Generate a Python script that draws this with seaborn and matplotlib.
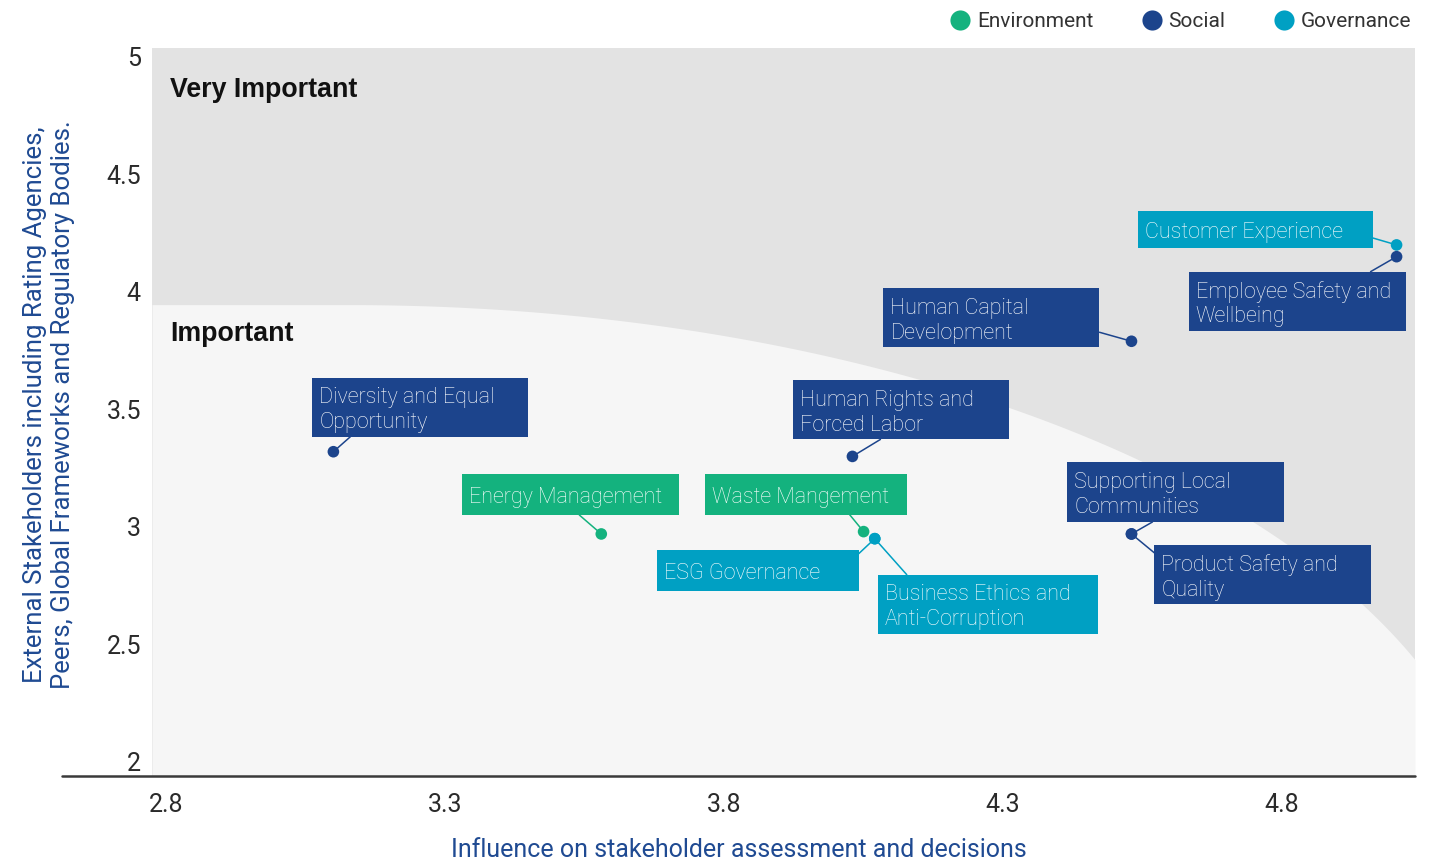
import numpy as np
import pandas as pd
import matplotlib
matplotlib.use("Agg")
import matplotlib.pyplot as plt
import matplotlib.transforms as mtransforms
from matplotlib.patches import Rectangle
from matplotlib.lines import Line2D
import seaborn as sns

# ---------------- data ----------------
topics = [
    "Diversity and Equal\nOpportunity",
    "Energy Management",
    "Waste Mangement",
    "ESG Governance",
    "Business Ethics and\nAnti-Corruption",
    "Human Rights and\nForced Labor",
    "Human Capital\nDevelopment",
    "Supporting Local\nCommunities",
    "Product Safety and\nQuality",
    "Customer Experience",
    "Employee Safety and\nWellbeing",
]
pillars = ["Social", "Environment", "Environment", "Governance", "Governance",
           "Social", "Social", "Social", "Social", "Governance", "Social"]
influence = [3.10, 3.58, 4.05, 4.07, 4.07, 4.03, 4.53, 4.53, 4.53, 5.005, 5.005]
importance = [3.32, 2.97, 2.98, 2.95, 2.95, 3.30, 3.79, 2.97, 2.97, 4.20, 4.15]

categories = ["Environment", "Social", "Governance"]
x_ticks = [2.8, 3.3, 3.8, 4.3, 4.8]
y_ticks = [2, 2.5, 3, 3.5, 4, 4.5, 5]

# ---------------- style ----------------
colors = {"Environment": "#14b27e", "Social": "#1c448c", "Governance": "#00a0c3"}
label_blue = "#1f4a92"

# label box layout (pixels, relative to the point): dx, dy(down), width, height, attach(x, y from box top-left)
layout = [
    (-21, -74, 216, 59, (38, 59)),
    (-139, -60, 217, 41, (117, 41)),
    (-159, -58, 202, 41, (145, 41)),
    (-218, 11, 202, 41, (202, 4)),
    (3, 36, 220, 59, (29, 0)),
    (-59, -76, 216, 59, (87, 59)),
    (-248, -53, 216, 59, (216, 44)),
    (-64, -72, 217, 60, (85, 60)),
    (23, 11, 217, 59, (0, 8)),
    (-259, -34, 235, 37, (235, 27)),
    (-208, 15, 217, 59, (182, 0)),
]

sns.set_theme(style="white")
plt.rcParams["font.family"] = ["Roboto", "DejaVu Sans"]

W, H = 1437, 864
fig = plt.figure(figsize=(W / 100, H / 100), dpi=100)
ax = fig.add_axes([152 / W, 1 - 776 / H, (1415 - 152) / W, (776 - 48) / H])

xmin, xmax = 2.775, 5.038
ymin, ymax = 1.94, 5.038
ax.set_xlim(xmin, xmax)
ax.set_ylim(ymin, ymax)

# background zones
ax.set_facecolor("#e3e3e3")
xs = np.linspace(xmin, xmax, 400)
xc, yc, a, b = 3.13, 1.52, 2.06, 2.426
t = np.clip((xs - xc) / a, -1, 1)
curve = np.where(xs < xc, yc + b, yc + b * np.sqrt(1 - t ** 2))
ax.fill_between(xs, ymin, curve, color="#f6f6f6", lw=0, zorder=0)

df = pd.DataFrame({"topic": topics, "pillar": pillars,
                   "influence": influence, "importance": importance})

sns.scatterplot(data=df, x="influence", y="importance", hue="pillar",
                hue_order=categories, palette=colors, s=70, edgecolor="none",
                legend=False, ax=ax, zorder=5)

for s in ax.spines.values():
    s.set_visible(False)
ax.plot([-90 / 1263, 1], [0, 0], transform=ax.transAxes, color="#3a3a3a",
        lw=1.8, clip_on=False, zorder=6)

ax.set_xticks(x_ticks)
ax.set_xticklabels([f"{v:g}" for v in x_ticks])
ax.set_yticks(y_ticks)
ax.set_yticklabels([f"{v:g}" for v in y_ticks])
ax.tick_params(axis="x", length=0, pad=12, labelsize=18, labelcolor="#2a2a2a")
ax.tick_params(axis="y", length=0, pad=8, labelsize=18, labelcolor="#2a2a2a")

ax.set_xlabel("Influence on stakeholder assessment and decisions",
              fontsize=18, color=label_blue)
ax.xaxis.set_label_coords((739 - 152) / 1263, -(850 - 776) / 728)
ax.xaxis.label.set_va("center")
ax.set_ylabel("External Stakeholders including Rating Agencies,\n"
              "Peers, Global Frameworks and Regulatory Bodies.",
              fontsize=18.5, color=label_blue, linespacing=1.25)
ax.yaxis.set_label_coords(-(152 - 49) / 1263, (776 - 405) / 728)
ax.yaxis.label.set_va("center")

bold_font = ["Liberation Sans", "DejaVu Sans"]
ax.text((170 - 152) / 1263, (776 - 90) / 728, "Very Important", transform=ax.transAxes,
        fontsize=19.3, fontweight="bold", color="#111111", va="center", ha="left",
        family=bold_font)
ax.text((170 - 152) / 1263, (776 - 334) / 728, "Important", transform=ax.transAxes,
        fontsize=19.3, fontweight="bold", color="#111111", va="center", ha="left",
        family=bold_font)

# label boxes with leader lines (drawn in pixel space)
fig.canvas.draw()
ident = mtransforms.IdentityTransform()
for topic, pil, xv, yv, (dx, dy, w, h, (atx, aty)) in zip(
        topics, pillars, influence, importance, layout):
    px, py = ax.transData.transform((xv, yv))
    left = px + dx
    top = py - dy
    col = colors[pil]
    rect = Rectangle((left, top - h), w, h, transform=ident, facecolor=col,
                     edgecolor="none", zorder=7, clip_on=False)
    ax.add_artist(rect)
    line = Line2D([px, left + atx], [py, top - aty], transform=ident, color=col,
                  lw=1.1, zorder=4, clip_on=False)
    ax.add_artist(line)
    ax.text(left + 7, top - h / 2 - 3, topic, transform=ident, color="white",
            fontsize=15.5, fontweight="light", va="center", ha="left",
            linespacing=1.22, zorder=8)

# legend
handles = [Line2D([0], [0], marker="o", linestyle="none", markersize=14.5,
                  markerfacecolor=colors[c], markeredgecolor="none", label=c)
           for c in categories]
leg = fig.legend(handles=handles, loc="upper right", ncol=3, frameon=False,
                 bbox_to_anchor=(1417 / W, 1 - 6 / H), fontsize=15,
                 handlelength=0.8, handletextpad=0.4, columnspacing=2.4,
                 borderaxespad=0, borderpad=0.3)
for txt in leg.get_texts():
    txt.set_color("#333333")

fig.savefig("out.png", dpi=100, facecolor="white")
